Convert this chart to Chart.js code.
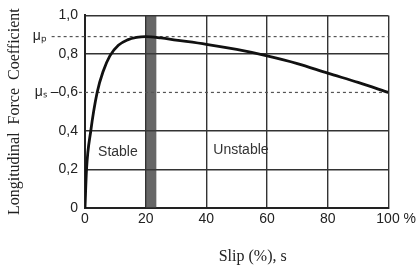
<!DOCTYPE html>
<html>
<head>
<meta charset="utf-8">
<script src="https://cdn.jsdelivr.net/npm/chart.js@4/dist/chart.umd.min.js"></script>
<style>
  html, body { margin: 0; padding: 0; background: #fff; }
  #wrap { width: 419px; height: 270px; }
</style>
</head>
<body>
<div id="wrap"><canvas id="slipChart"></canvas></div>
<script>
// Force coefficient vs. slip curve
const slip = [0, 0.5, 1.9, 4, 6, 8.2, 11, 14, 17, 20, 25, 30, 40, 50, 60, 70, 80, 90, 100];
const coefficient = [0, 0.2, 0.4, 0.6, 0.71, 0.79, 0.845, 0.873, 0.886, 0.89, 0.883, 0.872, 0.85, 0.823, 0.79, 0.75, 0.70, 0.652, 0.6];

// peak (mu_p) and sliding (mu_s) coefficients
const muPeak = 0.89;
const muSlide = 0.6;
const muPeakFrom = -11;   // dashed line starts left of the axis, after the label
const muSlideFrom = -2;

// critical slip band
const bandSlip = [20, 23.6];
const bandTop = 1.0;

// axis ticks
const xTicks = [0, 20, 40, 60, 80, 100];
const yTicks = [0, 0.2, 0.4, 0.6, 0.8, 0.89, 1.0];
const yTickLabels = ['0', '0,2', '0,4', 'μₛ –0,6', '0,8', 'μₚ        ', '1,0'];

// region labels
const regionNames = ['Stable', 'Unstable'];
const regionSlip = [4.3, 42.3];
const regionCoef = [0.29, 0.30];

const INK = '#222';
const GRID = '#333';

// Draws the Stable / Unstable labels at data coordinates
const regionLabelPlugin = {
    id: 'regionLabels',
    afterDatasetsDraw(chart) {
        const { ctx, scales } = chart;
        ctx.save();
        ctx.font = '14px "Liberation Sans", Arial, sans-serif';
        ctx.fillStyle = '#333';
        ctx.textAlign = 'left';
        ctx.textBaseline = 'middle';
        regionNames.forEach((name, i) => {
            ctx.fillText(name, scales.x.getPixelForValue(regionSlip[i]), scales.y.getPixelForValue(regionCoef[i]));
        });
        ctx.restore();
    }
};

const ctx = document.getElementById('slipChart').getContext('2d');

new Chart(ctx, {
    type: 'line',
    data: {
        datasets: [
            {
                // main curve
                data: slip.map((s, i) => ({ x: s, y: coefficient[i] })),
                borderColor: '#111',
                borderWidth: 2.8,
                pointRadius: 0,
                cubicInterpolationMode: 'monotone',
                fill: false,
                order: 0
            },
            {
                // mu_p dashed line
                data: [{ x: muPeakFrom, y: muPeak }, { x: 100, y: muPeak }],
                borderColor: '#555',
                borderWidth: 1.2,
                borderDash: [3, 3],
                pointRadius: 0,
                fill: false,
                clip: false,
                order: 1
            },
            {
                // mu_s dashed line
                data: [{ x: muSlideFrom, y: muSlide }, { x: 100, y: muSlide }],
                borderColor: '#555',
                borderWidth: 1.2,
                borderDash: [3, 3],
                pointRadius: 0,
                fill: false,
                clip: false,
                order: 2
            },
            {
                // critical slip band
                data: bandSlip.map(s => ({ x: s, y: bandTop })),
                borderWidth: 0,
                borderColor: 'rgba(0,0,0,0)',
                backgroundColor: 'rgba(60,60,60,0.78)',
                pointRadius: 0,
                fill: 'origin',
                order: 3
            }
        ]
    },
    options: {
        responsive: true,
        maintainAspectRatio: false,
        animation: false,
        layout: { padding: { top: 13, right: 29, left: 0, bottom: 0 } },
        plugins: {
            legend: { display: false },
            tooltip: { enabled: false }
        },
        scales: {
            x: {
                type: 'linear',
                min: 0,
                max: 100,
                afterBuildTicks: (scale) => { scale.ticks = xTicks.map(v => ({ value: v })); },
                afterFit: (scale) => { scale.height = 62; },
                ticks: {
                    autoSkip: false,
                    maxRotation: 0,
                    padding: 3,
                    color: INK,
                    font: { family: '"Liberation Sans", Arial, sans-serif', size: 14 },
                    callback: (value) => value === 100 ? '    100 %' : String(value)
                },
                grid: {
                    drawTicks: false,
                    lineWidth: 1.4,
                    color: (c) => (c.tick && c.tick.value === 0) ? 'rgba(0,0,0,0)' : GRID
                },
                border: { display: true, color: INK, width: 2 },
                title: {
                    display: true,
                    text: '        Slip (%), s',
                    color: INK,
                    font: { family: '"Liberation Serif", "Times New Roman", serif', size: 16 },
                    padding: { top: 4, bottom: 4 }
                }
            },
            y: {
                type: 'linear',
                min: 0,
                max: 1.0,
                afterBuildTicks: (scale) => { scale.ticks = yTicks.map(v => ({ value: v })); },
                afterFit: (scale) => { scale.width = 85; },
                ticks: {
                    autoSkip: false,
                    padding: 7,
                    color: INK,
                    font: { family: '"Liberation Sans", Arial, sans-serif', size: 14 },
                    callback: (value, index) => yTickLabels[index]
                },
                grid: {
                    drawTicks: false,
                    lineWidth: 1.4,
                    color: (c) => {
                        const v = c.tick ? c.tick.value : null;
                        if (v === 0 || v === muSlide || v === muPeak) return 'rgba(0,0,0,0)';
                        return GRID;
                    }
                },
                border: { display: true, color: INK, width: 2 },
                title: {
                    display: true,
                    text: 'Longitudinal  Force  Coefficient',
                    color: INK,
                    font: { family: '"Liberation Serif", "Times New Roman", serif', size: 16 },
                    padding: { top: 5, bottom: 0 }
                }
            }
        }
    },
    plugins: [regionLabelPlugin]
});
</script>
</body>
</html>
